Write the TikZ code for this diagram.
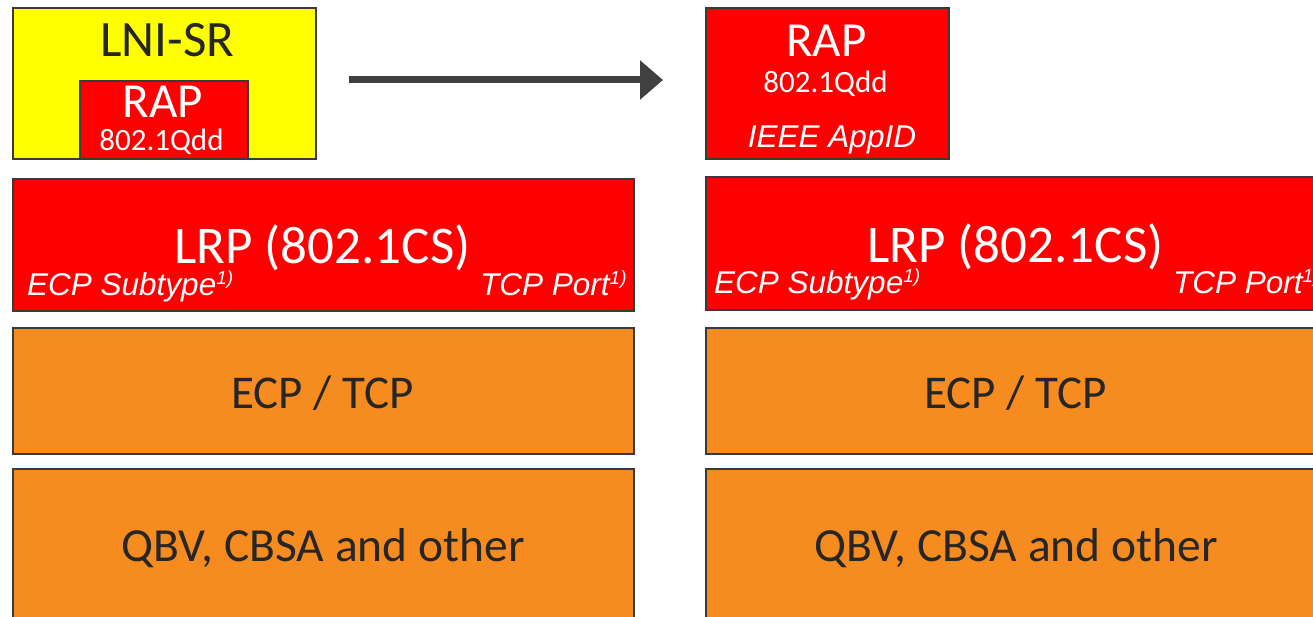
\documentclass[tikz,border=0pt]{standalone}
\usepackage{fontspec}
\setmainfont{Carlito}
\newfontfamily\arialfont{Liberation Sans}
\usetikzlibrary{arrows.meta}
\definecolor{bordergray}{HTML}{3A3A3A}
\definecolor{lniyellow}{HTML}{FFFF00}
\definecolor{rapred}{HTML}{FF0000}
\definecolor{layerorange}{HTML}{F68B20}
\definecolor{textgray}{HTML}{262626}
\definecolor{arrowgray}{HTML}{404040}
\newcommand{\footmark}{\raisebox{11pt}{\fontsize{19}{19}\selectfont 1)}}
\begin{document}
\begin{tikzpicture}[x=1pt,y=-1pt,
  layer/.style={draw=bordergray, line width=2pt, inner sep=0pt, anchor=north west},
  redlayer/.style={layer, fill=rapred},
  orangelayer/.style={layer, fill=layerorange},
  bigtext/.style={anchor=base, inner sep=0pt, font=\fontsize{49}{49}\selectfont},
  midtext/.style={anchor=base, inner sep=0pt, font=\fontsize{47}{47}\selectfont, text=textgray},
  smalltext/.style={anchor=base, inner sep=0pt, font=\fontsize{31}{31}\selectfont, text=white},
  itext/.style={anchor=base west, inner sep=0pt, text=white, font=\arialfont\itshape\fontsize{31.5}{31.5}\selectfont},
  flowarrow/.style={draw=arrowgray, fill=arrowgray, line width=7pt, -{Triangle[length=23pt,width=38pt]}}
]
\useasboundingbox (0,0) rectangle (1313,617);
\fill[white] (0,0) rectangle (1313,617);

% ---- left stack ----
\node[layer, fill=lniyellow, minimum width=303pt, minimum height=151pt] (lni) at (12,7) {};
\node[redlayer, minimum width=168pt, minimum height=78pt] (rapin) at (79,80) {};
\node[bigtext, text=textgray, font=\fontsize{51}{51}\selectfont] (lnit) at (167.5,57) {LNI-SR};
\node[bigtext, text=white] (rapint) at (163,118) {RAP};
\node[smalltext] (qddin) at (161.5,151) {802.1Qdd};

\node[redlayer, minimum width=621pt, minimum height=132pt] (lrpl) at (12,178) {};
\node[bigtext, text=white, font=\fontsize{53}{53}\selectfont] (lrplt) at (322.5,264) {LRP (802.1CS)};
\node[itext] (ecpl) at (27,295) {ECP Subtype\footmark};
\node[itext] (tcpl) at (480,295) {TCP Port\footmark};

\node[orangelayer, minimum width=621pt, minimum height=126pt] (ecpboxl) at (12,327) {};
\node[midtext] (ecptl) at (322.5,408) {ECP / TCP};

\node[orangelayer, minimum width=621pt, minimum height=180pt] (qbvl) at (12,468) {};
\node[midtext, font=\fontsize{47.5}{47.5}\selectfont] (qbvtl) at (323,561) {QBV, CBSA and other};

% ---- arrow ----
\coordinate (arrs) at (349,80);
\coordinate (arre) at (663,80);
\draw[flowarrow] (arrs) -- (arre);

% ---- right stack ----
\node[redlayer, minimum width=243pt, minimum height=151pt] (rapr) at (705,7) {};
\node[bigtext, text=white] (raprt) at (826.5,57) {RAP};
\node[smalltext] (qddr) at (825.5,93) {802.1Qdd};
\node[anchor=base, inner sep=0pt, text=white, font=\arialfont\itshape\fontsize{31.5}{31.5}\selectfont] (appid) at (832,148) {IEEE AppID};

\node[redlayer, minimum width=621pt, minimum height=133pt] (lrpr) at (705,176) {};
\node[bigtext, text=white, font=\fontsize{53}{53}\selectfont] (lrprt) at (1015.5,263) {LRP (802.1CS)};
\node[itext] (ecpr) at (714,294) {ECP Subtype\footmark};
\node[itext] (tcpr) at (1173,294) {TCP Port\footmark};

\node[orangelayer, minimum width=621pt, minimum height=126pt] (ecpboxr) at (705,327) {};
\node[midtext] (ecptr) at (1015.5,408) {ECP / TCP};

\node[orangelayer, minimum width=621pt, minimum height=180pt] (qbvr) at (705,468) {};
\node[midtext, font=\fontsize{47.5}{47.5}\selectfont] (qbvtr) at (1016,561) {QBV, CBSA and other};
\end{tikzpicture}
\end{document}
